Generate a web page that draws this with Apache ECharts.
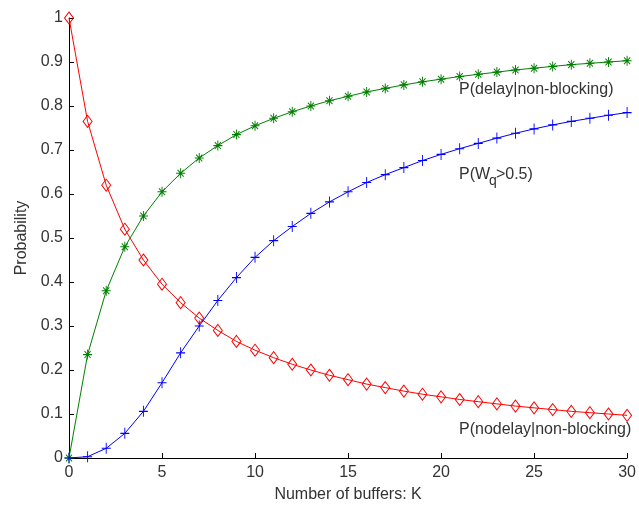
<!DOCTYPE html>
<html>
<head>
<meta charset="utf-8">
<script src="https://cdn.jsdelivr.net/npm/echarts@6/dist/echarts.min.js"></script>
<style>
  html, body { margin: 0; padding: 0; background: #fff; }
  #chart { width: 639px; height: 510px; }
</style>
</head>
<body>
<div id="chart"></div>
<script>
// Number of buffers K = 0..30
const buffers = [0,1,2,3,4,5,6,7,8,9,10,11,12,13,14,15,16,17,18,19,20,21,22,23,24,25,26,27,28,29,30];

// P(nodelay | non-blocking)
const pNoDelay = [1.000,0.765,0.620,0.520,0.450,0.395,0.353,0.318,0.290,0.265,0.245,
                  0.228,0.213,0.200,0.188,0.178,0.168,0.160,0.152,0.145,0.139,
                  0.133,0.128,0.123,0.118,0.114,0.110,0.106,0.103,0.100,0.097];

// P(delay | non-blocking)
const pDelay = [0.000,0.235,0.380,0.480,0.550,0.605,0.647,0.682,0.710,0.735,0.755,
                0.772,0.787,0.800,0.812,0.822,0.832,0.840,0.848,0.855,0.861,
                0.867,0.872,0.877,0.882,0.886,0.890,0.894,0.897,0.900,0.903];

// P(Wq > 0.5)
const pWq = [0.000,0.003,0.022,0.056,0.106,0.171,0.239,0.300,0.358,0.410,0.456,
             0.494,0.526,0.556,0.582,0.605,0.626,0.644,0.660,0.676,0.690,
             0.703,0.715,0.727,0.738,0.748,0.757,0.765,0.772,0.779,0.785];

const xTicks = { min: 0, max: 30, step: 5 };
const yTicks = { min: 0, max: 1, step: 0.1 };

const FONT = 'Liberation Sans, Arial, sans-serif';
const TXT = '#333';

const pair = (ys) => buffers.map((k, i) => [k, ys[i]]);

const PLUS = 'path://M5,0L5,10M0,5L10,5';
const STAR = 'path://M5,0L5,10M0,5L10,5M1.6,1.6L8.4,8.4M8.4,1.6L1.6,8.4';

function lineSeries(name, ys, color, symbol, size, z) {
  return {
    name, type: 'line', data: pair(ys), z,
    symbol, symbolSize: size, symbolKeepAspect: false,
    showSymbol: true, showAllSymbol: true,
    lineStyle: { color, width: 1 },
    itemStyle: { color: 'rgba(0,0,0,0)', borderColor: color, borderWidth: 1 },
    emphasis: { disabled: true },
    silent: true
  };
}

const chart = echarts.init(document.getElementById('chart'), null, { renderer: 'canvas' });

// width measurement for the subscripted label
const ctx = document.createElement('canvas').getContext('2d');
function textW(str, size) { ctx.font = size + 'px ' + FONT; return ctx.measureText(str).width; }

const labelX = 459;
const wPW = textW('P(W', 16);
const wq = textW('q', 14);

chart.setOption({
  animation: false,
  backgroundColor: '#fff',
  grid: { left: 69, right: 11, top: 18, bottom: 52, containLabel: false },
  xAxis: {
    type: 'value', min: xTicks.min, max: xTicks.max, interval: xTicks.step,
    name: 'Number of buffers: K', nameLocation: 'middle', nameGap: 29,
    nameTextStyle: { fontFamily: FONT, fontSize: 16, color: TXT },
    axisLine: { onZero: false, lineStyle: { color: '#000', width: 1 } },
    axisTick: { inside: true, length: 5, lineStyle: { color: '#000' } },
    axisLabel: { fontFamily: FONT, fontSize: 16, color: TXT, margin: 7 },
    splitLine: { show: false }
  },
  yAxis: {
    type: 'value', min: yTicks.min, max: yTicks.max, interval: yTicks.step,
    name: 'Probability', nameLocation: 'middle', nameGap: 37,
    nameTextStyle: { fontFamily: FONT, fontSize: 16, color: TXT },
    axisLine: { show: true, onZero: false, lineStyle: { color: '#000', width: 1 } },
    axisTick: { show: true, inside: true, length: 5, lineStyle: { color: '#000' } },
    axisLabel: { fontFamily: FONT, fontSize: 16, color: TXT, margin: 6,
                 formatter: (v) => String(Math.round(v * 10) / 10) },
    splitLine: { show: false }
  },
  series: [
    lineSeries('P(nodelay|non-blocking)', pNoDelay, '#ff0000', 'diamond', [9, 12], 3),
    lineSeries('P(delay|non-blocking)', pDelay, '#008000', STAR, [9, 10], 4),
    lineSeries('P(Wq>0.5)', pWq, '#0000ff', PLUS, [9, 11], 5)
  ],
  graphic: [
    { type: 'text', left: labelX, top: 91 - 9,
      style: { text: 'P(delay|non-blocking)', font: '16px ' + FONT, fill: TXT } },
    { type: 'group', left: labelX, top: 176 - 9, children: [
      { type: 'text', x: 0, y: 0, style: { text: 'P(W', font: '16px ' + FONT, fill: TXT } },
      { type: 'text', x: wPW - 1, y: 7, style: { text: 'q', font: '14px ' + FONT, fill: TXT } },
      { type: 'text', x: wPW + wq - 2, y: 0, style: { text: '>0.5)', font: '16px ' + FONT, fill: TXT } }
    ] },
    { type: 'text', left: labelX, top: 431 - 9,
      style: { text: 'P(nodelay|non-blocking)', font: '16px ' + FONT, fill: TXT } }
  ]
});
</script>
</body>
</html>
